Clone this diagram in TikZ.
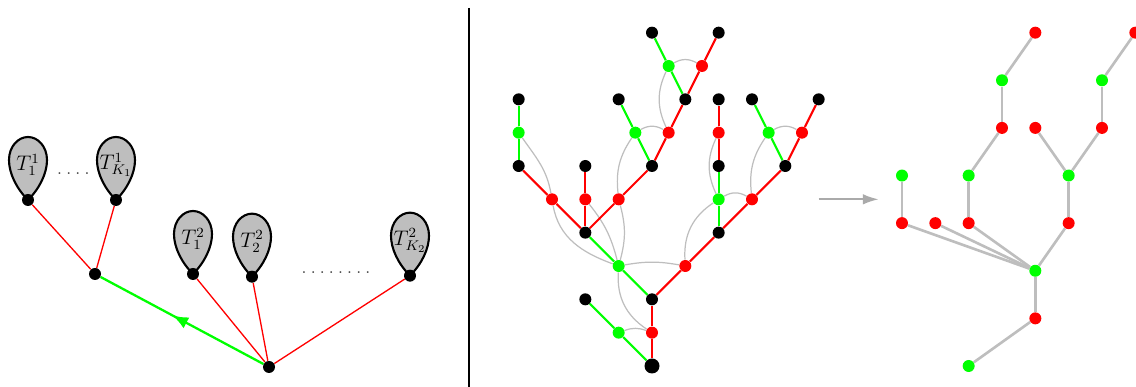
\documentclass[tikz,border=0pt]{standalone}
\usetikzlibrary{arrows.meta,decorations.markings,backgrounds}

\definecolor{tred}{RGB}{255,0,0}
\definecolor{tgreen}{RGB}{0,255,0}
\definecolor{tgray}{RGB}{190,190,190}
\definecolor{agray}{RGB}{170,170,170}

\newcommand{\subtree}[3]{%
	\begin{scope}[shift={(#1.center)}]
		\filldraw[leafdrop] (0,0) .. controls (-0.35,0.35) and (-0.57,0.8) .. (-0.57,1.2)
			.. controls (-0.57,1.6) and (-0.3,1.89) .. (0,1.89)
			.. controls (0.3,1.89) and (0.57,1.6) .. (0.57,1.2)
			.. controls (0.57,0.8) and (0.35,0.35) .. (0,0) -- cycle;
		\node[droplabel] (#2) at (0,1.05) {#3};
	\end{scope}}
\newcommand{\dotgap}{\kern2.4pt}

\begin{document}
\begin{tikzpicture}[x=0.6667cm, y=0.6667cm,
		kdot/.style={circle, fill=black, inner sep=0pt, minimum size=0.24cm},
		rdot/.style={kdot, fill=tred},
		gdot/.style={kdot, fill=tgreen},
		redge/.style={tred, line width=1.2pt},
		gedge/.style={tgreen, line width=1.2pt},
		link/.style={tgray, line width=0.7pt},
		tedge/.style={tgray, line width=1.5pt},
		lred/.style={tred, line width=0.75pt},
		larrow/.style={tgreen, line width=1.3pt, postaction={decorate},
			decoration={markings, mark=at position 0.56 with {\arrow{Latex[length=9pt,width=7pt]}}}},
		leafdrop/.style={fill=tgray, draw=black, line width=1.2pt},
		droplabel/.style={inner sep=0pt, font=\fontsize{11.5}{13}\selectfont},
		dotrow/.style={inner sep=0pt, text=black!75}]
			\useasboundingbox (0,0) rectangle (34.08,11.61);

			% Left: tree with subtrees
			\node[kdot] (lroot) at (8.07,0.6) {};
			\node[kdot] (lmid) at (2.85,3.39) {};
			\node[kdot] (l11) at (0.84,5.61) {};
			\node[kdot] (l1k) at (3.48,5.61) {};
			\node[kdot] (l21) at (5.79,3.39) {};
			\node[kdot] (l22) at (7.56,3.31) {};
			\node[kdot] (l2k) at (12.3,3.34) {};
			\node[dotrow] (ld1) at (2.2,6.39) {.\dotgap.\dotgap.\dotgap.};
			\node[dotrow] (ld2) at (10.08,3.42) {.\dotgap.\dotgap.\dotgap.\dotgap.\dotgap.\dotgap.\dotgap.};

			\begin{scope}[on background layer]
				\draw[lred] (l11) -- (lmid);
				\draw[lred] (l1k) -- (lmid);
				\draw[lred] (lroot) -- (l21);
				\draw[lred] (lroot) -- (l22);
				\draw[lred] (lroot) -- (l2k);
				\draw[larrow] (lroot) -- (lmid);
				\subtree{l11}{t11}{$T_1^1$}
				\subtree{l1k}{t1k}{$T_{K_1}^1$}
				\subtree{l21}{t21}{$T_1^2$}
				\subtree{l22}{t22}{$T_2^2$}
				\subtree{l2k}{t2k}{$T_{K_2}^2$}
			\end{scope}

			% Separator
			\coordinate (septop) at (14.07,11.37);
			\coordinate (sepbot) at (14.07,0);
			\draw[line width=0.6pt] (septop) -- (sepbot);

			% Middle: coloured tree
			\begin{scope}[shift={(19.56,0.63)}]
				\node[kdot, minimum size=0.3cm] (m0) at (0,0) {};
				\node[gdot] (m1a) at (-1,1) {};
				\node[rdot] (m1b) at (0,1) {};
				\node[kdot] (m2a) at (-2,2) {};
				\node[kdot] (m2b) at (0,2) {};
				\node[gdot] (m3a) at (-1,3) {};
				\node[rdot] (m3b) at (1,3) {};
				\node[kdot] (m4a) at (-2,4) {};
				\node[kdot] (m4b) at (2,4) {};
				\node[rdot] (m5a) at (-3,5) {};
				\node[rdot] (m5b) at (-2,5) {};
				\node[rdot] (m5c) at (-1,5) {};
				\node[gdot] (m5d) at (2,5) {};
				\node[rdot] (m5e) at (3,5) {};
				\node[kdot] (m6a) at (-4,6) {};
				\node[kdot] (m6b) at (-2,6) {};
				\node[kdot] (m6c) at (0,6) {};
				\node[kdot] (m6d) at (2,6) {};
				\node[kdot] (m6e) at (4,6) {};
				\node[gdot] (m7a) at (-4,7) {};
				\node[gdot] (m7b) at (-0.5,7) {};
				\node[rdot] (m7c) at (0.5,7) {};
				\node[rdot] (m7d) at (2,7) {};
				\node[gdot] (m7e) at (3.5,7) {};
				\node[rdot] (m7f) at (4.5,7) {};
				\node[kdot] (m8a) at (-4,8) {};
				\node[kdot] (m8b) at (-1,8) {};
				\node[kdot] (m8c) at (1,8) {};
				\node[kdot] (m8d) at (2,8) {};
				\node[kdot] (m8e) at (3,8) {};
				\node[kdot] (m8f) at (5,8) {};
				\node[gdot] (m9a) at (0.5,9) {};
				\node[rdot] (m9b) at (1.5,9) {};
				\node[kdot] (m10a) at (0,10) {};
				\node[kdot] (m10b) at (2,10) {};

				\begin{scope}[on background layer]
					% Grey links
					\draw[link] (m1a) to[bend left=20] (m1b);
					\draw[link] (m3a) to[bend left=10] (m3b);
					\draw[link] (m3a) to[bend right=30] (m1b);
					\draw[link] (m7a) to[out=-55, in=100] (m5a);
					\draw[link] (m5a) to[out=-80, in=160] (m3a);
					\draw[link] (m5b) to[bend left=12] (m3a);
					\draw[link] (m5c) to[bend left=15] (m3a);
					\draw[link] (m7b) to[bend right=20] (m5c);
					\draw[link] (m7b) to[bend left=30] (m7c);
					\draw[link] (m9a) to[bend left=30] (m9b);
					\draw[link] (m9a) to[bend right=25] (m7c);
					\draw[link] (m3b) to[bend left=30] (m5d);
					\draw[link] (m5d) to[bend left=30] (m5e);
					\draw[link] (m5d) to[bend left=25] (m7d);
					\draw[link] (m7e) to[bend left=30] (m7f);
					\draw[link] (m7e) to[bend right=20] (m5e);

					% Red edges
					\foreach \a/\b in {m0/m1b, m1b/m2b, m2b/m3b, m3b/m4b, m4a/m5a, m4a/m5b, m4a/m5c,
						m5a/m6a, m5b/m6b, m5c/m6c, m6c/m7c, m7c/m8c, m8c/m9b, m9b/m10b,
						m4b/m5e, m5e/m6e, m6e/m7f, m7f/m8f, m6d/m7d, m7d/m8d}
						\draw[redge] (\a) -- (\b);

					% Green edges
					\foreach \a/\b in {m0/m1a, m1a/m2a, m2b/m3a, m3a/m4a, m6a/m7a, m7a/m8a,
						m6c/m7b, m7b/m8b, m8c/m9a, m9a/m10a, m4b/m5d, m5d/m6d, m6e/m7e, m7e/m8e}
						\draw[gedge] (\a) -- (\b);
				\end{scope}

				% Arrow
				\coordinate (arrs) at (5,5);
				\coordinate (arre) at (6.8,5);
				\draw[agray, line width=1.1pt, -{Latex[length=9pt,width=6pt]}] (arrs) -- (arre);
			\end{scope}

			% Right: contracted tree
			\begin{scope}[shift={(27.06,0.63)}, y=0.9524cm]
				\node[gdot] (r0) at (2,0) {};
				\node[rdot] (r1) at (4,1) {};
				\node[gdot] (r2) at (4,2) {};
				\node[rdot] (r3a) at (0,3) {};
				\node[rdot] (r3b) at (1,3) {};
				\node[rdot] (r3c) at (2,3) {};
				\node[rdot] (r3d) at (5,3) {};
				\node[gdot] (r4a) at (0,4) {};
				\node[gdot] (r4c) at (2,4) {};
				\node[gdot] (r4d) at (5,4) {};
				\node[rdot] (r5c) at (3,5) {};
				\node[rdot] (r5d) at (4,5) {};
				\node[rdot] (r5e) at (6,5) {};
				\node[gdot] (r6c) at (3,6) {};
				\node[gdot] (r6e) at (6,6) {};
				\node[rdot] (r7c) at (4,7) {};
				\node[rdot] (r7e) at (7,7) {};

				\begin{scope}[on background layer]
					\foreach \a/\b in {r0/r1, r1/r2, r2/r3a, r2/r3b, r2/r3c, r2/r3d, r3a/r4a,
						r3c/r4c, r4c/r5c, r5c/r6c, r6c/r7c, r3d/r4d, r4d/r5d, r4d/r5e, r5e/r6e, r6e/r7e}
						\draw[tedge] (\a) -- (\b);
				\end{scope}
			\end{scope}
		\end{tikzpicture}
\end{document}
